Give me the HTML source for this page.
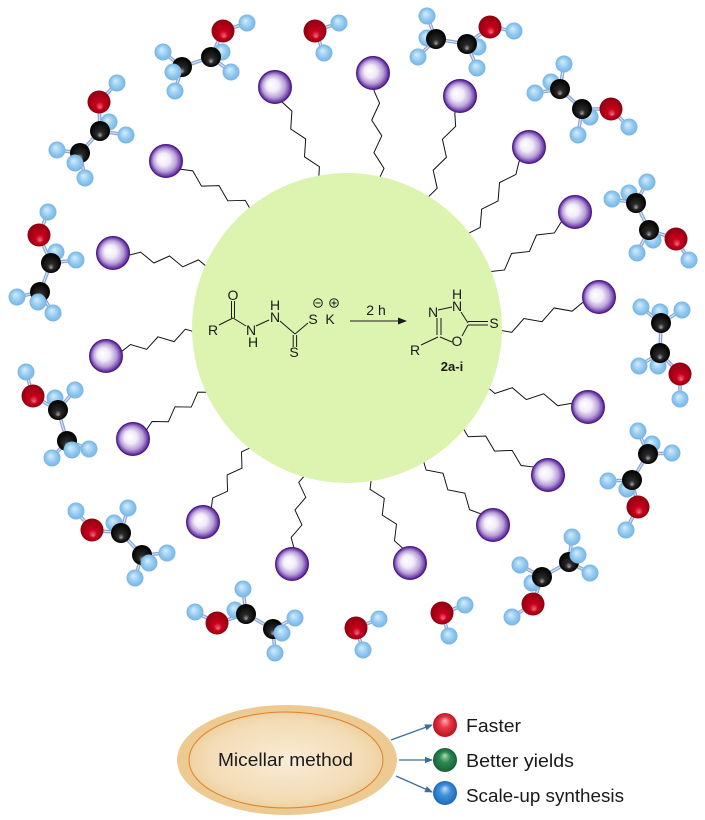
<!DOCTYPE html>
<html><head><meta charset="utf-8"><style>
html,body{margin:0;padding:0;background:#fff;}
svg{display:block;}
.t{font-family:"Liberation Sans",Arial,sans-serif;fill:#1a1a1a;}
</style></head><body>
<svg width="705" height="820" viewBox="0 0 705 820" xmlns="http://www.w3.org/2000/svg">
<defs>
<radialGradient id="gP" cx=".5" cy=".5" r=".5" fx=".38" fy=".42"><stop offset="0" stop-color="#ffffff"/><stop offset=".38" stop-color="#f1ebf8"/><stop offset=".7" stop-color="#b9a0d8"/><stop offset=".9" stop-color="#7446ae"/><stop offset="1" stop-color="#4b1585"/></radialGradient>
<radialGradient id="gH" cx=".5" cy=".5" r=".5" fx=".4" fy=".35"><stop offset="0" stop-color="#d6edfc"/><stop offset=".6" stop-color="#93caf0"/><stop offset="1" stop-color="#76b4e4"/></radialGradient>
<radialGradient id="gC" cx=".5" cy=".5" r=".5" fx=".5" fy=".75"><stop offset="0" stop-color="#a8a8a8"/><stop offset=".3" stop-color="#2a2a2a"/><stop offset="1" stop-color="#000"/></radialGradient>
<radialGradient id="gO" cx=".5" cy=".5" r=".5" fx=".55" fy=".75"><stop offset="0" stop-color="#f07080"/><stop offset=".35" stop-color="#c8001c"/><stop offset="1" stop-color="#900010"/></radialGradient>
<radialGradient id="bR" cx=".5" cy=".5" r=".5" fx=".5" fy=".3"><stop offset="0" stop-color="#ffb8bc"/><stop offset=".45" stop-color="#e83848"/><stop offset="1" stop-color="#b81420"/></radialGradient>
<radialGradient id="bG" cx=".5" cy=".5" r=".5" fx=".5" fy=".3"><stop offset="0" stop-color="#b0dcb8"/><stop offset=".45" stop-color="#2e8a52"/><stop offset="1" stop-color="#1a6038"/></radialGradient>
<radialGradient id="bB" cx=".5" cy=".5" r=".5" fx=".5" fy=".3"><stop offset="0" stop-color="#c0e0fa"/><stop offset=".45" stop-color="#3f92dc"/><stop offset="1" stop-color="#1f6ab8"/></radialGradient>
<radialGradient id="gE" cx=".5" cy=".5" r=".5"><stop offset="0" stop-color="#f9ecd6"/><stop offset=".8" stop-color="#f3dcb6"/><stop offset="1" stop-color="#efd2a2"/></radialGradient>
<circle id="h" r="8.5" fill="url(#gH)"/>
<circle id="c" r="10" fill="url(#gC)"/>
<circle id="o" r="11.5" fill="url(#gO)"/>
<circle id="p" r="16.5" fill="url(#gP)" stroke="#4a1785" stroke-width="1"/>
<path id="z" d="M0,0 L18,0 L30,-4.5 L46,4.5 L62,-4.5 L78,4.5 L94,-4.5 L110,4.5 L120,0"/>
<marker id="ah" markerWidth="8" markerHeight="8" refX="7" refY="4" orient="auto" markerUnits="userSpaceOnUse"><path d="M0,0.8 L8,4 L0,7.2 Z" fill="#3c6d9c"/></marker>
<path id="bonds" d="M223,31L247,23M223,31L211,57L182,67M211,57L222,52M211,57L231,72M182,67L163,52M182,67L173,72M182,67L175,91
M315,31L339,23M315,31L324,53
M490,27L514,31M490,27L467,44L436,39M467,44L478,47M467,44L477,68M436,39L427,16M436,39L427,38M436,39L418,57
M611,109L629,127M611,109L582,109L560,89M582,109L590,117M582,109L578,135M560,89L564,64M560,89L551,82M560,89L535,93
M676,239L689,260M676,239L649,230L636,203M649,230L653,240M649,230L637,253M636,203L612,199M636,203L629,193M636,203L647,182
M680,374L680,399M680,374L660,353L661,323M660,353L658,366M660,353L639,366M661,323L641,307M661,323L660,312M661,323L682,310
M638,507L626,530M638,507L632,480L648,454M632,480L627,489M632,480L608,481M648,454L638,431M648,454L652,444M648,454L672,453
M533,604L512,617M533,604L542,577L569,562M542,577L520,565M542,577L532,583M569,562L572,537M569,562L578,555M569,562L590,573
M442,613L465,605M442,613L449,636
M356,628L379,619M356,628L363,650
M217,623L195,612M217,623L246,614L273,629M246,614L235,610M246,614L243,589M273,629L295,618M273,629L282,633M273,629L275,653
M92,530L76,511M92,530L121,533L142,555M121,533L114,523M121,533L128,508M142,555L167,553M142,555L149,563M142,555L135,578
M33,396L26,372M33,396L58,410L67,441M58,410L55,398M58,410L75,390M67,441L52,458M67,441L72,450M67,441L89,449
M39,235L48,212M39,235L51,263L40,292M51,263L56,252M51,263L76,260M40,292L17,297M40,292L38,302M40,292L53,313
M99,102L117,83M99,102L100,131L80,153M100,131L109,122M100,131L126,135M80,153L57,150M80,153L75,163M80,153L85,178"/>
</defs>

<!-- chains -->
<g fill="none" stroke="#111" stroke-width="1">
<use href="#z" transform="translate(275,87) rotate(63.7) scale(0.97,1)"/>
<use href="#z" transform="translate(373,73) rotate(86.1) scale(1.02,1)"/>
<use href="#z" transform="translate(460,96) rotate(106.6) scale(1.01,1)"/>
<use href="#z" transform="translate(529,147) rotate(124) scale(1,1)"/>
<use href="#z" transform="translate(575,212) rotate(143.4) scale(0.97,1)"/>
<use href="#z" transform="translate(599,297) rotate(160.7) scale(1,1)"/>
<use href="#z" transform="translate(588,407) rotate(191) scale(1,1)"/>
<use href="#z" transform="translate(548,475) rotate(208.5) scale(0.94,1)"/>
<use href="#z" transform="translate(493,525) rotate(222.4) scale(0.92,1)"/>
<use href="#z" transform="translate(410,563) rotate(244.6) scale(0.89,1)"/>
<use href="#z" transform="translate(292,564) rotate(277.9) scale(0.87,1)"/>
<use href="#z" transform="translate(203,522) rotate(302) scale(0.85,1)"/>
<use href="#z" transform="translate(133,439) rotate(327.4) scale(0.85,1)"/>
<use href="#z" transform="translate(106,356) rotate(344.4) scale(0.89,1)"/>
<use href="#z" transform="translate(113,253) rotate(7.6) scale(0.91,1)"/>
<use href="#z" transform="translate(166,161) rotate(29.3) scale(0.94,1)"/>
</g>

<!-- micelle core -->
<circle cx="347" cy="328" r="155" fill="#dcf4b0"/>

<!-- heads -->
<use href="#p" x="275" y="87"/><use href="#p" x="373" y="73"/><use href="#p" x="460" y="96"/><use href="#p" x="529" y="147"/>
<use href="#p" x="575" y="212"/><use href="#p" x="599" y="297"/><use href="#p" x="588" y="407"/><use href="#p" x="548" y="475"/>
<use href="#p" x="493" y="525"/><use href="#p" x="410" y="563"/><use href="#p" x="292" y="564"/><use href="#p" x="203" y="522"/>
<use href="#p" x="133" y="439"/><use href="#p" x="106" y="356"/><use href="#p" x="113" y="253"/><use href="#p" x="166" y="161"/>

<!-- molecule bonds -->
<use href="#bonds" fill="none" stroke="#8ea6d2" stroke-width="3.6" stroke-linecap="round"/>
<use href="#bonds" fill="none" stroke="#dbe6f7" stroke-width="1.1"/>

<!-- atoms -->
<g>
<use href="#h" x="222" y="52"/><use href="#c" x="211" y="57"/><use href="#c" x="182" y="67"/><use href="#h" x="231" y="72"/><use href="#h" x="163" y="52"/><use href="#h" x="173" y="72"/><use href="#h" x="175" y="91"/><use href="#h" x="247" y="23"/><use href="#o" x="223" y="31"/>
<use href="#h" x="339" y="23"/><use href="#h" x="324" y="53"/><use href="#o" x="315" y="31"/>
<use href="#h" x="478" y="47"/><use href="#h" x="427" y="38"/><use href="#c" x="467" y="44"/><use href="#c" x="436" y="39"/><use href="#h" x="477" y="68"/><use href="#h" x="427" y="16"/><use href="#h" x="418" y="57"/><use href="#h" x="514" y="31"/><use href="#o" x="490" y="27"/>
<use href="#h" x="590" y="117"/><use href="#h" x="551" y="82"/><use href="#c" x="582" y="109"/><use href="#c" x="560" y="89"/><use href="#h" x="578" y="135"/><use href="#h" x="564" y="64"/><use href="#h" x="535" y="93"/><use href="#h" x="629" y="127"/><use href="#o" x="611" y="109"/>
<use href="#h" x="653" y="240"/><use href="#h" x="629" y="193"/><use href="#c" x="649" y="230"/><use href="#c" x="636" y="203"/><use href="#h" x="637" y="253"/><use href="#h" x="612" y="199"/><use href="#h" x="647" y="182"/><use href="#h" x="689" y="260"/><use href="#o" x="676" y="239"/>
<use href="#h" x="658" y="366"/><use href="#h" x="660" y="312"/><use href="#c" x="660" y="353"/><use href="#c" x="661" y="323"/><use href="#h" x="639" y="366"/><use href="#h" x="641" y="307"/><use href="#h" x="682" y="310"/><use href="#h" x="680" y="399"/><use href="#o" x="680" y="374"/>
<use href="#h" x="627" y="489"/><use href="#h" x="652" y="444"/><use href="#c" x="632" y="480"/><use href="#c" x="648" y="454"/><use href="#h" x="608" y="481"/><use href="#h" x="638" y="431"/><use href="#h" x="672" y="453"/><use href="#h" x="626" y="530"/><use href="#o" x="638" y="507"/>
<use href="#h" x="532" y="583"/><use href="#c" x="542" y="577"/><use href="#c" x="569" y="562"/><use href="#h" x="520" y="565"/><use href="#h" x="572" y="537"/><use href="#h" x="578" y="555"/><use href="#h" x="590" y="573"/><use href="#h" x="512" y="617"/><use href="#o" x="533" y="604"/>
<use href="#h" x="465" y="605"/><use href="#h" x="449" y="636"/><use href="#o" x="442" y="613"/>
<use href="#h" x="379" y="619"/><use href="#h" x="363" y="650"/><use href="#o" x="356" y="628"/>
<use href="#h" x="235" y="610"/><use href="#c" x="246" y="614"/><use href="#c" x="273" y="629"/><use href="#h" x="243" y="589"/><use href="#h" x="295" y="618"/><use href="#h" x="282" y="633"/><use href="#h" x="275" y="653"/><use href="#h" x="195" y="612"/><use href="#o" x="217" y="623"/>
<use href="#h" x="114" y="523"/><use href="#c" x="121" y="533"/><use href="#c" x="142" y="555"/><use href="#h" x="128" y="508"/><use href="#h" x="167" y="553"/><use href="#h" x="149" y="563"/><use href="#h" x="135" y="578"/><use href="#h" x="76" y="511"/><use href="#o" x="92" y="530"/>
<use href="#h" x="55" y="398"/><use href="#c" x="58" y="410"/><use href="#c" x="67" y="441"/><use href="#h" x="75" y="390"/><use href="#h" x="52" y="458"/><use href="#h" x="72" y="450"/><use href="#h" x="89" y="449"/><use href="#h" x="26" y="372"/><use href="#o" x="33" y="396"/>
<use href="#h" x="56" y="252"/><use href="#c" x="51" y="263"/><use href="#c" x="40" y="292"/><use href="#h" x="76" y="260"/><use href="#h" x="17" y="297"/><use href="#h" x="38" y="302"/><use href="#h" x="53" y="313"/><use href="#h" x="48" y="212"/><use href="#o" x="39" y="235"/>
<use href="#h" x="109" y="122"/><use href="#c" x="100" y="131"/><use href="#c" x="80" y="153"/><use href="#h" x="126" y="135"/><use href="#h" x="57" y="150"/><use href="#h" x="75" y="163"/><use href="#h" x="85" y="178"/><use href="#h" x="117" y="83"/><use href="#o" x="99" y="102"/>
</g>

<!-- reaction -->
<g stroke="#1a1a1a" stroke-width="1" fill="none">
<path d="M219,325L233,318 M231.5,318L231.5,301 M234.5,318L234.5,301 M233,318L246,326 M256,326L269,320 M280,321L295,334 M293.2,335L293.2,347 M296.6,335L296.6,347 M295,334L308,323"/>
<circle cx="318" cy="303" r="4.3"/><path d="M315.5,303H320.5"/>
<circle cx="334" cy="303" r="4.3"/><path d="M331.5,303H336.5M334,300.5V305.5"/>
<path d="M350,321H401"/>
<path d="M438,310L452,307 M437,318L437,335 M441,318L441,335 M421,345L438,337 M440,337L452,342 M461,312L468,323 M468,325L462,336 M468,321.5L488,321.5 M468,325L488,325"/>
</g>
<path d="M407,321L398,317.5L398,324.5Z" fill="#1a1a1a"/>
<g class="t" font-size="14" text-anchor="middle">
<text x="213" y="335">R</text>
<text x="233" y="300">O</text>
<text x="251" y="335">N</text>
<text x="253" y="347">H</text>
<text x="275" y="322">N</text>
<text x="275" y="310">H</text>
<text x="294" y="357">S</text>
<text x="313" y="324">S</text>
<text x="330" y="324">K</text>
<text x="376" y="315">2 h</text>
<text x="457" y="299">H</text>
<text x="457" y="311">N</text>
<text x="433" y="317">N</text>
<text x="457" y="346">O</text>
<text x="494" y="328">S</text>
<text x="415" y="355">R</text>
<text x="452" y="371" font-weight="bold" font-size="13">2a-i</text>
</g>

<!-- bottom -->
<ellipse cx="287" cy="760" rx="110" ry="55" fill="#ecca92"/>
<ellipse cx="286" cy="760" rx="97" ry="48" fill="url(#gE)" stroke="#e08028" stroke-width="1"/>
<text class="t" x="218" y="766" font-size="18" textLength="135" lengthAdjust="spacingAndGlyphs">Micellar method</text>
<g stroke="#3c6d9c" stroke-width="1.3" marker-end="url(#ah)">
<line x1="391" y1="740" x2="432" y2="725"/>
<line x1="399" y1="760" x2="432" y2="760"/>
<line x1="396" y1="776" x2="432" y2="792"/>
</g>
<circle cx="445" cy="725" r="12" fill="url(#bR)"/>
<circle cx="445" cy="760" r="12" fill="url(#bG)"/>
<circle cx="445" cy="793" r="12" fill="url(#bB)"/>
<g class="t" font-size="18">
<text x="466" y="732" textLength="55" lengthAdjust="spacingAndGlyphs">Faster</text>
<text x="466" y="767" textLength="108" lengthAdjust="spacingAndGlyphs">Better yields</text>
<text x="466" y="802" textLength="158" lengthAdjust="spacingAndGlyphs">Scale-up synthesis</text>
</g>
</svg>
</body></html>
